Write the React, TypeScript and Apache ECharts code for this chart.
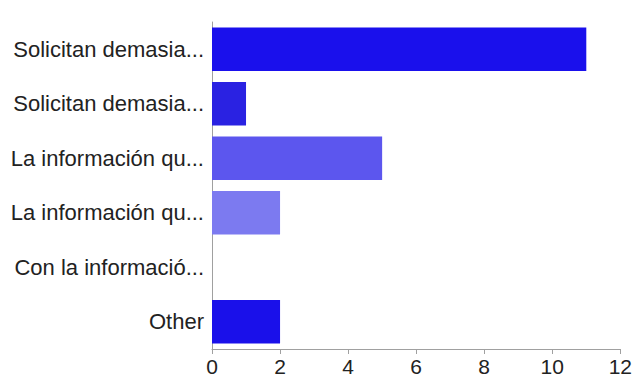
import React, { useEffect, useRef } from "react";
import * as echarts from "echarts";

// Response categories, top to bottom
const categories = [
  "Solicitan demasia...",
  "Solicitan demasia...",
  "La información qu...",
  "La información qu...",
  "Con la informació...",
  "Other",
];

// Number of responses per category
const counts = [11, 1, 5, 2, 0, 2];

// Fill colour per bar
const barColors = ["#1a10ec", "#2a22e2", "#5c56ee", "#7c7af0", "#6a66f0", "#1a10ea"];

const xTicks = { min: 0, max: 12, interval: 2 };

export default function App() {
  const ref = useRef<HTMLDivElement>(null);

  useEffect(() => {
    if (!ref.current) return;
    const chart = echarts.init(ref.current, undefined, { renderer: "svg" });
    chart.setOption({
      animation: false,
      backgroundColor: "#ffffff",
      grid: { left: 212, right: 13, top: 22, bottom: 30, containLabel: false },
      xAxis: {
        type: "value",
        min: xTicks.min,
        max: xTicks.max,
        interval: xTicks.interval,
        splitLine: { show: false },
        axisLine: { show: true, lineStyle: { color: "#a0a0a0", width: 1 } },
        axisTick: { show: true, length: 5, lineStyle: { color: "#a0a0a0" } },
        axisLabel: {
          color: "#222222",
          fontSize: 21,
          fontFamily: "Liberation Sans, Arial, sans-serif",
          margin: 7,
        },
      },
      yAxis: {
        type: "category",
        inverse: true,
        data: categories,
        axisLine: { show: true, lineStyle: { color: "#a0a0a0", width: 1 } },
        axisTick: { show: false },
        axisLabel: {
          color: "#222222",
          fontSize: 22,
          fontFamily: "Liberation Sans, Arial, sans-serif",
          margin: 8,
        },
      },
      series: [
        {
          type: "bar",
          data: counts.map((v, i) => ({ value: v, itemStyle: { color: barColors[i] } })),
          barWidth: "80%",
        },
      ],
    });
    return () => chart.dispose();
  }, []);

  return (
    <div
      ref={ref}
      style={{ position: "fixed", left: 0, top: 0, width: 635, height: 379 }}
    />
  );
}
